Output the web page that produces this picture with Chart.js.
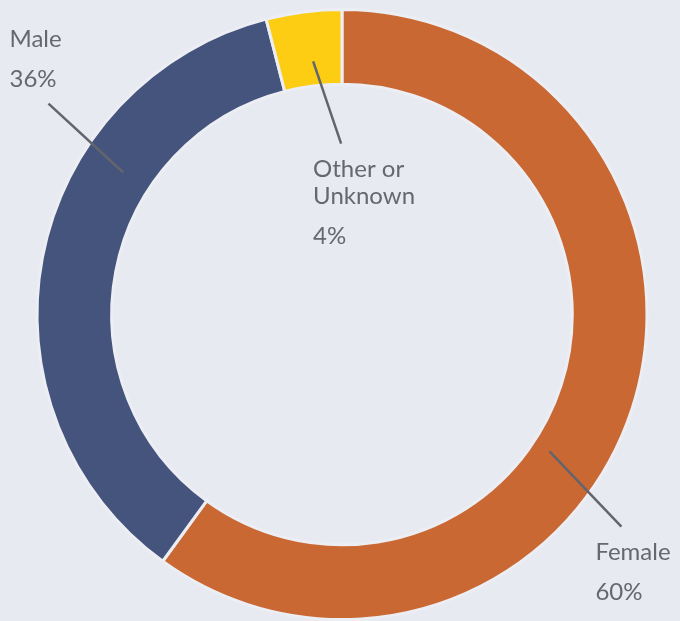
<!DOCTYPE html>
<html>
<head>
<meta charset="utf-8">
<script src="https://cdn.jsdelivr.net/npm/chart.js@4/dist/chart.umd.min.js"></script>
<style>
  html, body { margin: 0; padding: 0; background: #e8eaf1; }
  #wrap { width: 680px; height: 621px; position: relative; }
</style>
</head>
<body>
<div id="wrap"><canvas id="donaGenero"></canvas></div>
<script>
// Data
const categorias = ['Female', 'Male', 'Other or Unknown'];
const porcentajes = [60, 36, 4];
const etiquetasTexto = [['Female'], ['Male'], ['Other or', 'Unknown']];
const colores = ['#c96832', '#44547d', '#fccd13'];

// Leader lines in polar coords around the donut centre (deg clockwise from top,
// radius as a factor of the outer radius) plus text offset from the line end.
const guias = [
  { a0: 123.4, r0: 0.815, a1: 127.2, r1: 1.15, dx: -26, dy: 26 },
  { a0: 303.0, r0: 0.855, a1: 305.7, r1: 1.185, dx: -39, dy: -64 },
  { a0: 353.5, r0: 0.835, a1: 359.7, r1: 0.56, dx: -28, dy: 26 }
];

const FUENTE = '24px Lato, "Noto Sans", sans-serif';
const COLOR_TEXTO = '#65686e';

const etiquetasPlugin = {
  id: 'etiquetasGuia',
  afterDatasetsDraw(chart) {
    const ctx = chart.ctx;
    const meta = chart.getDatasetMeta(0);
    meta.data.forEach((arco, i) => {
      const g = guias[i];
      const { x, y, outerRadius } = arco.getProps(['x', 'y', 'outerRadius'], true);
      const p = (ang, f) => {
        const t = ang * Math.PI / 180;
        return [x + outerRadius * f * Math.sin(t), y - outerRadius * f * Math.cos(t)];
      };
      const [x0, y0] = p(g.a0, g.r0);
      const [x1, y1] = p(g.a1, g.r1);
      ctx.save();
      ctx.strokeStyle = '#62656c';
      ctx.lineWidth = 2.5;
      ctx.beginPath();
      ctx.moveTo(x0, y0);
      ctx.lineTo(x1, y1);
      ctx.stroke();

      ctx.fillStyle = COLOR_TEXTO;
      ctx.font = FUENTE;
      ctx.textAlign = 'left';
      ctx.textBaseline = 'middle';
      const tx = x1 + g.dx;
      let ty = y1 + g.dy;
      etiquetasTexto[i].forEach((linea, k) => {
        ctx.fillText(linea, tx, ty + k * 27);
      });
      ty += (etiquetasTexto[i].length - 1) * 27 + 40;
      ctx.fillText(porcentajes[i] + '%', tx, ty);
      ctx.restore();
    });
  }
};

new Chart(document.getElementById('donaGenero').getContext('2d'), {
  type: 'doughnut',
  data: {
    labels: categorias,
    datasets: [{
      data: porcentajes,
      backgroundColor: colores,
      borderColor: '#eceef4',
      borderWidth: 3
    }]
  },
  options: {
    responsive: true,
    maintainAspectRatio: false,
    animation: false,
    cutout: '75.5%',
    layout: { padding: { top: 8, left: 4, right: 0, bottom: 0 } },
    plugins: {
      legend: { display: false },
      tooltip: { enabled: false }
    }
  },
  plugins: [etiquetasPlugin]
});
</script>
</body>
</html>
